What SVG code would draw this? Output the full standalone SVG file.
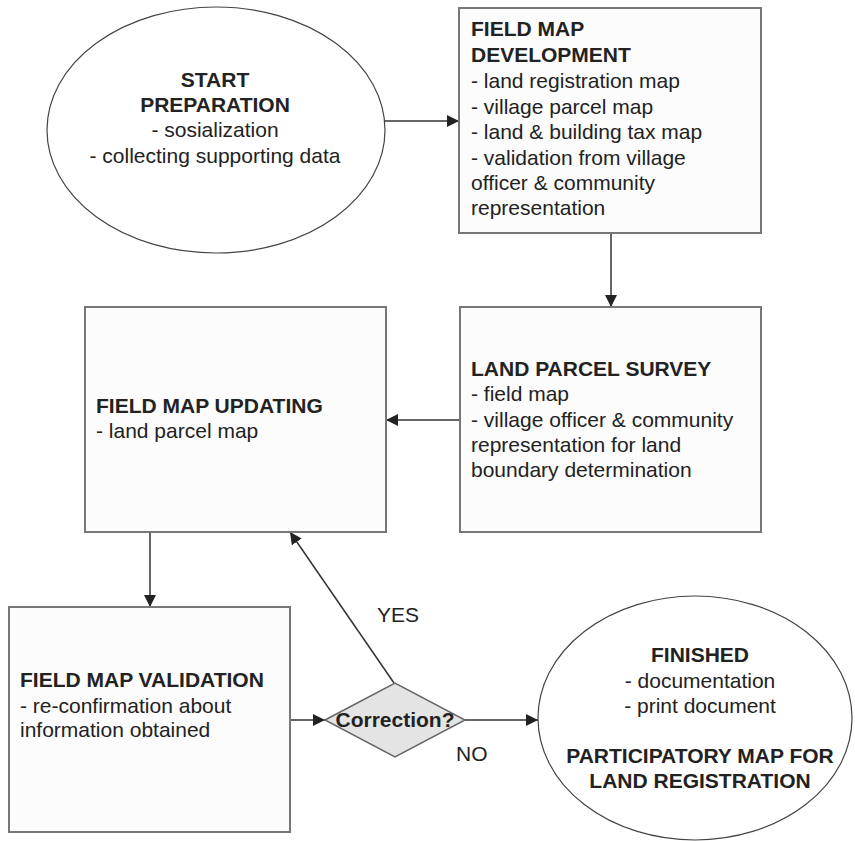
<svg xmlns="http://www.w3.org/2000/svg" width="855" height="841" viewBox="0 0 855 841">
<defs>
<style>
text{font-family:"Liberation Sans",Arial,sans-serif;font-size:21px;fill:#222}
.b{font-weight:bold}
.c{text-anchor:middle}
.box{fill:#fcfcfc;stroke:#777;stroke-width:2}
.ell{fill:#fff;stroke:#444;stroke-width:1.2}
.dia{fill:#e4e4e4;stroke:#666;stroke-width:1.5}
.con{fill:none;stroke:#333;stroke-width:1.5;marker-end:url(#ah)}
</style>
<marker id="ah" viewBox="0 0 12 12" refX="12" refY="6" markerWidth="12" markerHeight="12" markerUnits="userSpaceOnUse" orient="auto">
<path d="M0,0 L12,6 L0,12 z" fill="#222"/>
</marker>
</defs>
<rect width="855" height="841" fill="#fff"/>
<g id="connectors">
<line class="con" x1="385" y1="121" x2="459" y2="121"/>
<line class="con" x1="611" y1="233" x2="611" y2="307"/>
<line class="con" x1="460" y1="420" x2="386" y2="420"/>
<line class="con" x1="150" y1="532" x2="150" y2="607"/>
<line class="con" x1="290" y1="720" x2="325" y2="720"/>
<line class="con" x1="394" y1="683" x2="290" y2="532"/>
<line class="con" x1="465" y1="720" x2="538" y2="720"/>
<text x="377" y="622">YES</text>
<text x="456" y="761">NO</text>
</g>
<g id="start">
<ellipse class="ell" cx="216" cy="130" rx="169" ry="123"/>
<text class="b c" x="215" y="87">START</text>
<text class="b c" x="215" y="112">PREPARATION</text>
<text class="c" x="215" y="137">- sosialization</text>
<text class="c" x="215" y="163">- collecting supporting data</text>
</g>
<g id="field-map-development">
<rect class="box" x="459" y="8" width="302" height="225"/>
<text class="b" x="471" y="36">FIELD MAP</text>
<text class="b" x="471" y="62">DEVELOPMENT</text>
<text x="471" y="88">- land registration map</text>
<text x="471" y="114">- village parcel map</text>
<text x="471" y="139">- land &amp; building tax map</text>
<text x="471" y="165">- validation from village</text>
<text x="471" y="190">officer &amp; community</text>
<text x="471" y="215">representation</text>
</g>
<g id="land-parcel-survey">
<rect class="box" x="460" y="307" width="301" height="225"/>
<text class="b" x="471" y="376">LAND PARCEL SURVEY</text>
<text x="471" y="401">- field map</text>
<text x="471" y="427">- village officer &amp; community</text>
<text x="471" y="452">representation for land</text>
<text x="471" y="477">boundary determination</text>
</g>
<g id="field-map-updating">
<rect class="box" x="85" y="307" width="301" height="225"/>
<text class="b" x="96" y="413">FIELD MAP UPDATING</text>
<text x="96" y="438">- land parcel map</text>
</g>
<g id="field-map-validation">
<rect class="box" x="9" y="607" width="281" height="225"/>
<text class="b" x="20" y="687">FIELD MAP VALIDATION</text>
<text x="20" y="713">- re-confirmation about</text>
<text x="20" y="737">information obtained</text>
</g>
<g id="correction">
<polygon class="dia" points="325,720 395,683 465,720 395,757"/>
<text class="b c" x="395" y="727">Correction?</text>
</g>
<g id="finished">
<ellipse class="ell" cx="695" cy="718" rx="157" ry="122"/>
<text class="b c" x="700" y="662">FINISHED</text>
<text class="c" x="700" y="688">- documentation</text>
<text class="c" x="700" y="713">- print document</text>
<text class="b c" x="700" y="763">PARTICIPATORY MAP FOR</text>
<text class="b c" x="700" y="788">LAND REGISTRATION</text>
</g>
</svg>
